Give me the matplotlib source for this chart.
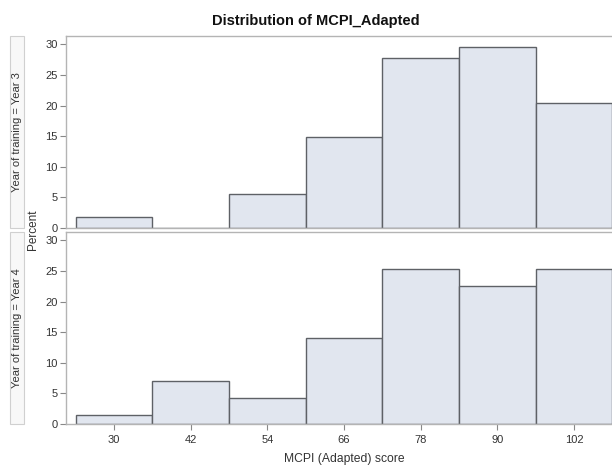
import matplotlib
matplotlib.use("Agg")
import matplotlib.pyplot as plt
from matplotlib.patches import Rectangle

plt.rcParams['font.family'] = ['Liberation Sans', 'DejaVu Sans']

# Histogram bins (midpoints) and percent of students per bin
bin_mids = [30, 42, 54, 66, 78, 90, 102]
bin_width = 12
pct_year3 = [1.85, 0.0, 5.56, 14.81, 27.78, 29.63, 20.37]
pct_year4 = [1.41, 7.04, 4.23, 14.08, 25.35, 22.54, 25.35]
panel_labels = ["Year of training = Year 3", "Year of training = Year 4"]
y_ticks = [0, 5, 10, 15, 20, 25, 30]

W, H = 612, 467
fig = plt.figure(figsize=(W / 100, H / 100), dpi=100)

left = 66 / W
width = 1 - left + 0.002
panels = [
    (36, 228, pct_year3, panel_labels[0]),
    (232, 424, pct_year4, panel_labels[1]),
]

frame_col = "#b4b4b4"
bar_fill = "#e1e6ef"
bar_edge = "#5e6166"
text_col = "#333333"

axes = []
for i, (top, bot, vals, lab) in enumerate(panels):
    ax = fig.add_axes([left, 1 - bot / H, width, (bot - top) / H])
    ax.bar(bin_mids, vals, width=bin_width, color=bar_fill,
           edgecolor=bar_edge, linewidth=1.0, zorder=2)
    ax.set_xlim(22.5, 108.15)
    ax.set_ylim(0, 31.35)
    ax.set_yticks(y_ticks)
    for s in ax.spines.values():
        s.set_color(frame_col)
        s.set_linewidth(1.0)
    ax.spines['right'].set_visible(False)
    ax.tick_params(axis='y', length=4, width=0.8, color="#888888",
                   labelsize=8, labelcolor=text_col, pad=2)
    if i == 0:
        ax.tick_params(axis='x', bottom=False, labelbottom=False)
    else:
        ax.set_xticks(bin_mids)
        ax.tick_params(axis='x', length=4, width=0.8, color="#888888",
                       labelsize=8, labelcolor=text_col, pad=4)
    # strip label box on the left
    rect = Rectangle((10 / W, 1 - bot / H), 14 / W, (bot - top) / H,
                     transform=fig.transFigure, facecolor="#f8f8f8",
                     edgecolor="#d0d0d0", linewidth=0.8)
    fig.patches.append(rect)
    fig.text(17.5 / W, 1 - (top + bot) / 2 / H, lab, rotation=90,
             ha='center', va='center', fontsize=8, color=text_col)
    axes.append(ax)

fig.text(33 / W, 1 - 230 / H, "Percent", rotation=90, ha='center',
         va='center', fontsize=8.5, color=text_col)
fig.text(316 / W, 1 - 21 / H, "Distribution of MCPI_Adapted",
         ha='center', va='center', fontsize=10.5, fontweight='bold',
         color="#111111")
fig.text(344 / W, 1 - 459 / H, "MCPI (Adapted) score", ha='center',
         va='center', fontsize=8.7, color=text_col)

fig.savefig("out.png", dpi=100)
